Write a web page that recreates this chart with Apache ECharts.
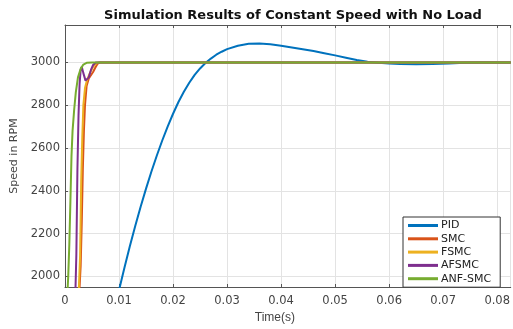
<!DOCTYPE html>
<html>
<head>
<meta charset="utf-8">
<script src="https://cdn.jsdelivr.net/npm/echarts@6/dist/echarts.min.js"></script>
<style>html,body{margin:0;padding:0;background:#fff}#c{width:513px;height:329px}</style>
</head>
<body>
<div id="c"></div>
<script>
var seriesNames = ['PID', 'SMC', 'FSMC', 'AFSMC', 'ANF-SMC'];
var yTickValues = [2000, 2200, 2400, 2600, 2800, 3000];

var pidT = [0.006, 0.008, 0.009, 0.010, 0.011, 0.012, 0.013, 0.014, 0.015, 0.016, 0.017, 0.018, 0.019, 0.020, 0.021, 0.022, 0.023, 0.024, 0.025, 0.026, 0.027, 0.028, 0.029, 0.030, 0.032, 0.034, 0.036, 0.038, 0.040, 0.042, 0.044, 0.046, 0.048, 0.050, 0.052, 0.054, 0.056, 0.058, 0.060, 0.062, 0.065, 0.068, 0.071, 0.074, 0.077, 0.0825];
var pidV = [1480, 1716, 1828, 1935, 2040, 2140, 2235, 2325, 2410, 2490, 2565, 2635, 2700, 2760, 2815, 2863, 2905, 2942, 2972, 2997, 3018, 3036, 3050, 3062, 3078, 3087, 3089, 3085, 3078, 3070, 3062, 3053, 3043, 3033, 3022, 3011, 3003, 2998, 2995, 2993, 2992, 2993, 2995, 2998, 3000, 3000];

var smcT = [0.0026, 0.0029, 0.0031, 0.0033, 0.0035, 0.0037, 0.0040, 0.0044, 0.0048, 0.0052, 0.0056, 0.0060, 0.0065, 0.0825];
var smcV = [1900, 2050, 2250, 2500, 2680, 2800, 2890, 2925, 2940, 2955, 2975, 2993, 3000, 3000];

var fsmcT = [0.0025, 0.0028, 0.0030, 0.0032, 0.0034, 0.0037, 0.0041, 0.0046, 0.0051, 0.0056, 0.0062, 0.0825];
var fsmcV = [1900, 2100, 2450, 2650, 2800, 2880, 2920, 2950, 2975, 2992, 3000, 3000];

var afsmcT = [0.0019, 0.0021, 0.0023, 0.0025, 0.0027, 0.0029, 0.0031, 0.0034, 0.0038, 0.0041, 0.0044, 0.0048, 0.0052, 0.0057, 0.0825];
var afsmcV = [1900, 2100, 2500, 2750, 2900, 2965, 2980, 2950, 2915, 2910, 2930, 2965, 2988, 3000, 3000];

var anfT = [0.0004, 0.0006, 0.0008, 0.0010, 0.0012, 0.0014, 0.0017, 0.0020, 0.0024, 0.0029, 0.0034, 0.0040, 0.0050, 0.0825];
var anfV = [1900, 2000, 2150, 2350, 2560, 2680, 2780, 2860, 2930, 2970, 2990, 2998, 3000, 3000];

var colors = ['#0072BD', '#D95319', '#EDB120', '#7E2F8E', '#77AC30'];
var allT = [pidT, smcT, fsmcT, afsmcT, anfT];
var allV = [pidV, smcV, fsmcV, afsmcV, anfV];

function pairs(t, v) { return t.map(function (x, i) { return [x, v[i]]; }); }

var chart = echarts.init(document.getElementById('c'), null, { renderer: 'canvas' });
var axisColor = '#555';
var labelStyle = { color: '#444', fontFamily: 'DejaVu Sans', fontSize: 11.5 };

var series = seriesNames.map(function (n, i) {
  return {
    name: n, type: 'line', data: pairs(allT[i], allV[i]), showSymbol: false, symbol: 'none',
    smooth: false, clip: true,
    lineStyle: { color: colors[i], width: 2 }, itemStyle: { color: colors[i] },
    z: 2 + i
  };
});

chart.setOption({
  animation: false,
  backgroundColor: '#fff',
  title: {
    text: 'Simulation Results of Constant Speed with No Load',
    left: 288, top: 4, textAlign: 'center',
    textStyle: { fontFamily: 'DejaVu Sans', fontWeight: 'bold', fontSize: 13, color: '#111' }
  },
  grid: { left: 65, top: 25, right: 0, bottom: 34 },
  legend: {
    orient: 'vertical', left: 403, top: 217,
    data: seriesNames,
    icon: 'rect', itemWidth: 30, itemHeight: 3, itemGap: 2.3,
    padding: [3, 9, 3, 5],
    borderColor: '#333', borderWidth: 1, backgroundColor: '#fff',
    textStyle: { fontFamily: 'DejaVu Sans', fontSize: 11, color: '#222', lineHeight: 11, padding: [0, 0, 0, -2] }
  },
  xAxis: [{
    type: 'value', min: 0, max: 0.0825, interval: 0.01,
    name: 'Time(s)', nameLocation: 'middle', nameGap: 25,
    nameTextStyle: { fontFamily: 'Liberation Sans', fontSize: 12, color: '#444', padding: [0, 26, 0, 0] },
    axisLine: { show: true, lineStyle: { color: axisColor, width: 1 } },
    axisTick: { show: true, inside: true, length: 3, lineStyle: { color: axisColor } },
    axisLabel: Object.assign({ margin: 8, formatter: function (v) { return v === 0 ? '0' : v.toFixed(2); } }, labelStyle),
    splitLine: { show: true, lineStyle: { color: '#e3e3e3', width: 1 } }
  }, {
    type: 'value', position: 'top', min: 0, max: 0.0825, interval: 0.01,
    axisLine: { show: true, lineStyle: { color: axisColor, width: 1 } },
    axisTick: { show: true, inside: true, length: 3, lineStyle: { color: axisColor } },
    axisLabel: { show: false }, splitLine: { show: false }
  }],
  yAxis: {
    type: 'value', min: 1950, max: 3175,
    name: 'Speed in RPM', nameLocation: 'middle', nameGap: 44,
    nameTextStyle: { fontFamily: 'DejaVu Sans', fontSize: 11, color: '#444' },
    axisLine: { show: true, lineStyle: { color: axisColor, width: 1 } },
    axisTick: { show: true, inside: true, length: 3, customValues: yTickValues, lineStyle: { color: axisColor } },
    axisLabel: Object.assign({ margin: 5, customValues: yTickValues, formatter: function (v) { return String(v); } }, labelStyle),
    splitLine: { show: true, lineStyle: { color: '#e3e3e3', width: 1 } }
  },
  series: series
});
</script>
</body>
</html>
